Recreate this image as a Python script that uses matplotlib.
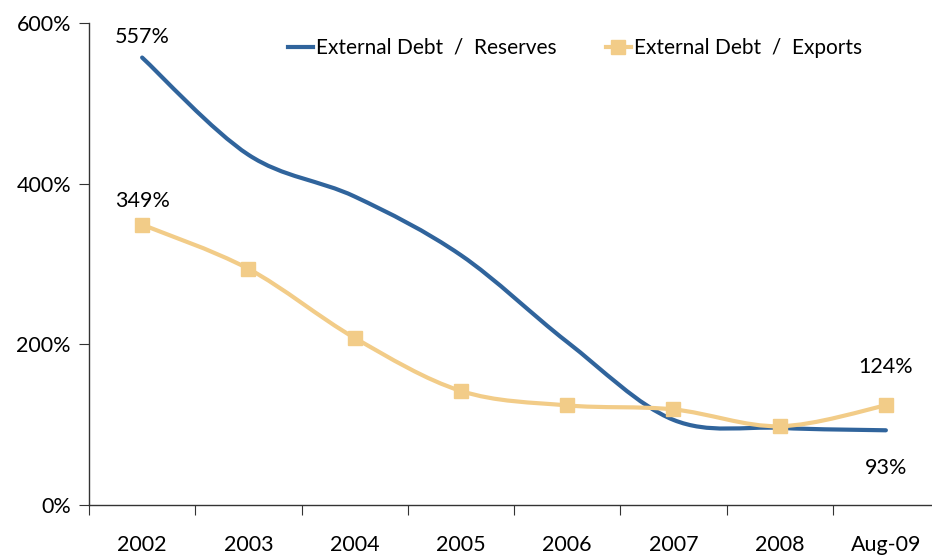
import matplotlib.pyplot as plt
from matplotlib.path import Path
from matplotlib.patches import PathPatch
from matplotlib.lines import Line2D
from matplotlib.ticker import FuncFormatter

plt.rcParams['font.family'] = ['Lato', 'DejaVu Sans']

categories = ["2002", "2003", "2004", "2005", "2006", "2007", "2008", "Aug-09"]
debt_reserves = [557, 436, 384, 311, 203, 106, 96, 93]
debt_exports = [349, 294, 208, 142, 124, 119, 98, 124]

blue = "#30649c"
gold = "#f2cc88"


def smooth_path(xs, ys):
    # excel-like smoothed line: cubic bezier through the points
    verts = [(xs[0], ys[0])]
    codes = [Path.MOVETO]
    n = len(xs)
    for i in range(n - 1):
        x0, y0 = (xs[i - 1], ys[i - 1]) if i > 0 else (xs[i], ys[i])
        x3, y3 = (xs[i + 2], ys[i + 2]) if i + 2 < n else (xs[i + 1], ys[i + 1])
        c1 = (xs[i] + (xs[i + 1] - x0) / 6, ys[i] + (ys[i + 1] - y0) / 6)
        c2 = (xs[i + 1] - (x3 - xs[i]) / 6, ys[i + 1] - (y3 - ys[i]) / 6)
        verts += [c1, c2, (xs[i + 1], ys[i + 1])]
        codes += [Path.CURVE4] * 3
    return Path(verts, codes)


fig = plt.figure(figsize=(9.32, 5.55), dpi=100)
ax = fig.add_axes([89 / 932, 50 / 555, 850 / 932, 482 / 555])

x = list(range(len(categories)))
ax.add_patch(PathPatch(smooth_path(x, debt_reserves), fill=False, edgecolor=blue,
                       lw=3, capstyle='round', joinstyle='round'))
ax.add_patch(PathPatch(smooth_path(x, debt_exports), fill=False, edgecolor=gold,
                       lw=3, capstyle='round', joinstyle='round'))
ax.plot(x, debt_exports, ls='none', marker='s', ms=10, color=gold)

ax.set_xlim(-0.5, 7.5)
ax.set_ylim(0, 600)
ax.set_yticks([0, 200, 400, 600])
ax.yaxis.set_major_formatter(FuncFormatter(lambda v, p: f"{v:.0f}%"))
ax.set_xticks([i - 0.5 for i in range(len(categories))])
ax.set_xticklabels([])
ax.set_xticks(x, minor=True)
ax.set_xticklabels(categories, minor=True)
ax.tick_params(axis='x', which='minor', length=0, pad=21.5, labelsize=15.5)
ax.tick_params(axis='x', which='major', length=7, direction='out', color='#333333')
ax.tick_params(axis='y', length=7, direction='out', color='#333333', labelsize=15.5, pad=6)

for s in ['top', 'right']:
    ax.spines[s].set_visible(False)
for s in ['left', 'bottom']:
    ax.spines[s].set_color('#333333')
    ax.spines[s].set_linewidth(1)

ax.text(x[0], debt_reserves[0] + 25, f"{debt_reserves[0]}%", ha='center', va='center', fontsize=15.5)
ax.text(x[0], debt_exports[0] + 30, f"{debt_exports[0]}%", ha='center', va='center', fontsize=15.5)
ax.text(x[-1], debt_exports[-1] + 48, f"{debt_exports[-1]}%", ha='center', va='center', fontsize=15.5)
ax.text(x[-1], debt_reserves[-1] - 47, f"{debt_reserves[-1]}%", ha='center', va='center', fontsize=15.5)

handles = [Line2D([], [], color=blue, lw=3),
           Line2D([], [], color=gold, lw=3, marker='s', ms=10)]
ax.legend(handles, ["External Debt  /  Reserves", "External Debt  /  Exports"],
          ncol=2, frameon=False, fontsize=15, loc='upper left',
          bbox_to_anchor=(0.234, 0.969), borderaxespad=0, borderpad=0,
          handlelength=1.2, handletextpad=0.15, columnspacing=2.35)

fig.savefig("out.png", dpi=100)
